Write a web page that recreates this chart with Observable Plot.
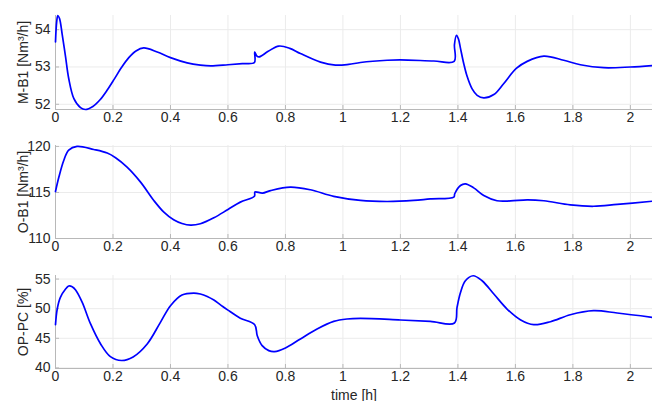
<!DOCTYPE html>
<html>
<head>
<meta charset="utf-8">
<script src="https://cdn.jsdelivr.net/npm/d3@7"></script>
<script src="https://cdn.jsdelivr.net/npm/@observablehq/plot@0.6"></script>
<style>
  html, body { margin: 0; padding: 0; background: #fff; }
  #chart svg { display: block; }
</style>
</head>
<body>
<div id="chart"></div>
<script>
// Time axis (hours) shared by the three stacked panels
const timeDomain = [0, 2.077];
const timeTicks = [0, 0.2, 0.4, 0.6, 0.8, 1, 1.2, 1.4, 1.6, 1.8, 2];

// M-B1 flow [Nm³/h]
const mb1Time = [0, 0.004, 0.008, 0.014, 0.023, 0.035, 0.046, 0.064, 0.087, 0.104, 0.13, 0.155, 0.18, 0.205, 0.23, 0.255, 0.28, 0.307, 0.354, 0.4, 0.458, 0.504, 0.54, 0.6, 0.65, 0.692, 0.693, 0.7, 0.708, 0.74, 0.777, 0.815, 0.852, 0.922, 0.974, 1.02, 1.061, 1.154, 1.2, 1.316, 1.387, 1.388, 1.395, 1.402, 1.409, 1.42, 1.432, 1.449, 1.467, 1.49, 1.525, 1.559, 1.603, 1.641, 1.699, 1.768, 1.826, 1.907, 2.0, 2.077];
const mb1 = [53.67, 54.2, 54.38, 54.3, 53.89, 53.27, 52.69, 52.15, 51.91, 51.86, 51.94, 52.12, 52.38, 52.68, 52.99, 53.25, 53.43, 53.51, 53.4, 53.25, 53.11, 53.05, 53.03, 53.06, 53.09, 53.12, 53.4, 53.3, 53.27, 53.42, 53.56, 53.5, 53.36, 53.13, 53.05, 53.07, 53.12, 53.18, 53.19, 53.16, 53.15, 53.6, 53.85, 53.75, 53.5, 53.1, 52.75, 52.42, 52.24, 52.17, 52.26, 52.55, 52.96, 53.15, 53.29, 53.18, 53.06, 52.98, 53.0, 53.04];
const mb1Domain = [51.86, 54.38];
const mb1Ticks = [52, 53, 54];

// O-B1 flow [Nm³/h]
const ob1Time = [0, 0.012, 0.029, 0.046, 0.075, 0.133, 0.18, 0.209, 0.249, 0.296, 0.342, 0.377, 0.411, 0.44, 0.47, 0.504, 0.551, 0.6, 0.643, 0.692, 0.694, 0.72, 0.748, 0.817, 0.887, 0.968, 1.061, 1.154, 1.246, 1.304, 1.386, 1.389, 1.409, 1.426, 1.455, 1.49, 1.536, 1.583, 1.641, 1.699, 1.791, 1.872, 1.954, 2.077];
const ob1 = [115.1, 116.7, 118.5, 119.6, 120.0, 119.67, 119.28, 118.77, 117.75, 116.12, 114.13, 112.86, 112.03, 111.63, 111.45, 111.6, 112.25, 113.15, 113.95, 114.6, 115.05, 114.93, 115.2, 115.58, 115.29, 114.57, 114.13, 114.02, 114.13, 114.3, 114.5, 114.86, 115.76, 115.94, 115.5, 114.67, 114.1, 114.08, 114.2, 114.1, 113.65, 113.5, 113.7, 114.05];
const ob1Domain = [110, 120.1];
const ob1Ticks = [110, 115, 120];

// OP-PC opening [%]
const oppcTime = [0, 0.006, 0.017, 0.035, 0.046, 0.058, 0.07, 0.093, 0.122, 0.157, 0.191, 0.23, 0.27, 0.319, 0.365, 0.4, 0.44, 0.481, 0.504, 0.528, 0.551, 0.574, 0.6, 0.643, 0.693, 0.702, 0.719, 0.742, 0.762, 0.8, 0.852, 0.91, 0.968, 1.014, 1.061, 1.2, 1.304, 1.388, 1.397, 1.409, 1.426, 1.453, 1.484, 1.525, 1.571, 1.617, 1.664, 1.722, 1.791, 1.872, 1.954, 2.077];
const oppc = [47.3, 49.94, 51.9, 53.31, 53.82, 53.7, 53.15, 51.06, 47.42, 44.04, 41.9, 41.25, 41.85, 44.04, 47.69, 50.5, 52.3, 52.64, 52.47, 52.05, 51.45, 50.65, 49.75, 48.4, 47.3, 45.44, 43.76, 42.92, 42.75, 43.37, 44.89, 46.57, 47.85, 48.26, 48.36, 48.09, 47.85, 47.58, 50.21, 52.74, 54.71, 55.56, 54.71, 52.47, 49.94, 48.14, 47.3, 47.8, 48.98, 49.66, 49.27, 48.53];
const oppcDomain = [39.9, 55.6];
const oppcTicks = [40, 45, 50, 55];

const AXIS = "#b8b8b8";
const GRID = "#ebebeb";
const INK = "#262626";

function panel(time, values, {label, domain, ticks, height, marginBottom, xLabel}) {
  const rows = time.map((t, i) => ({t, v: values[i]}));
  return Plot.plot({
    width: 652,
    height,
    marginLeft: 55,
    marginRight: 0,
    marginTop: 15,
    marginBottom,
    style: {fontFamily: "'Liberation Sans', Arial, Helvetica, sans-serif", fontSize: "14px", color: INK, background: "#fff"},
    x: {domain: timeDomain},
    y: {domain},
    marks: [
      Plot.gridX(timeTicks, {stroke: GRID, strokeOpacity: 1}),
      Plot.gridY(ticks, {stroke: GRID, strokeOpacity: 1}),
      Plot.ruleY([domain[0]], {stroke: AXIS}),
      Plot.ruleX([timeDomain[0]], {stroke: AXIS}),
      // inward tick marks
      Plot.axisX(timeTicks, {fill: "none", stroke: AXIS, tickSize: 4, dy: -4}),
      Plot.axisY(ticks, {fill: "none", stroke: AXIS, tickSize: 4, dx: 4}),
      // tick labels and titles
      Plot.axisX(timeTicks, {stroke: "none", tickSize: 0, tickPadding: 3, fill: INK,
        tickFormat: (d) => String(d),
        label: xLabel ?? null, labelArrow: "none", labelAnchor: "center", labelOffset: 31}),
      Plot.axisY(ticks, {stroke: "none", tickSize: 0, tickPadding: 5, fill: INK,
        tickFormat: (d) => String(d),
        label, labelArrow: "none", labelAnchor: "center", labelOffset: 37}),
      Plot.line(rows, {x: "t", y: "v", stroke: "#0000ff", strokeWidth: 1.7, curve: "catmull-rom"})
    ]
  });
}

const chart = document.getElementById("chart");
chart.append(
  panel(mb1Time, mb1, {label: "M-B1 [Nm³/h]", domain: mb1Domain, ticks: mb1Ticks, height: 130, marginBottom: 21}),
  panel(ob1Time, ob1, {label: "O-B1 [Nm³/h]", domain: ob1Domain, ticks: ob1Ticks, height: 130, marginBottom: 22}),
  panel(oppcTime, oppc, {label: "OP-PC [%]", domain: oppcDomain, ticks: oppcTicks, height: 141, marginBottom: 33, xLabel: "time [h]"})
);
</script>
</body>
</html>
